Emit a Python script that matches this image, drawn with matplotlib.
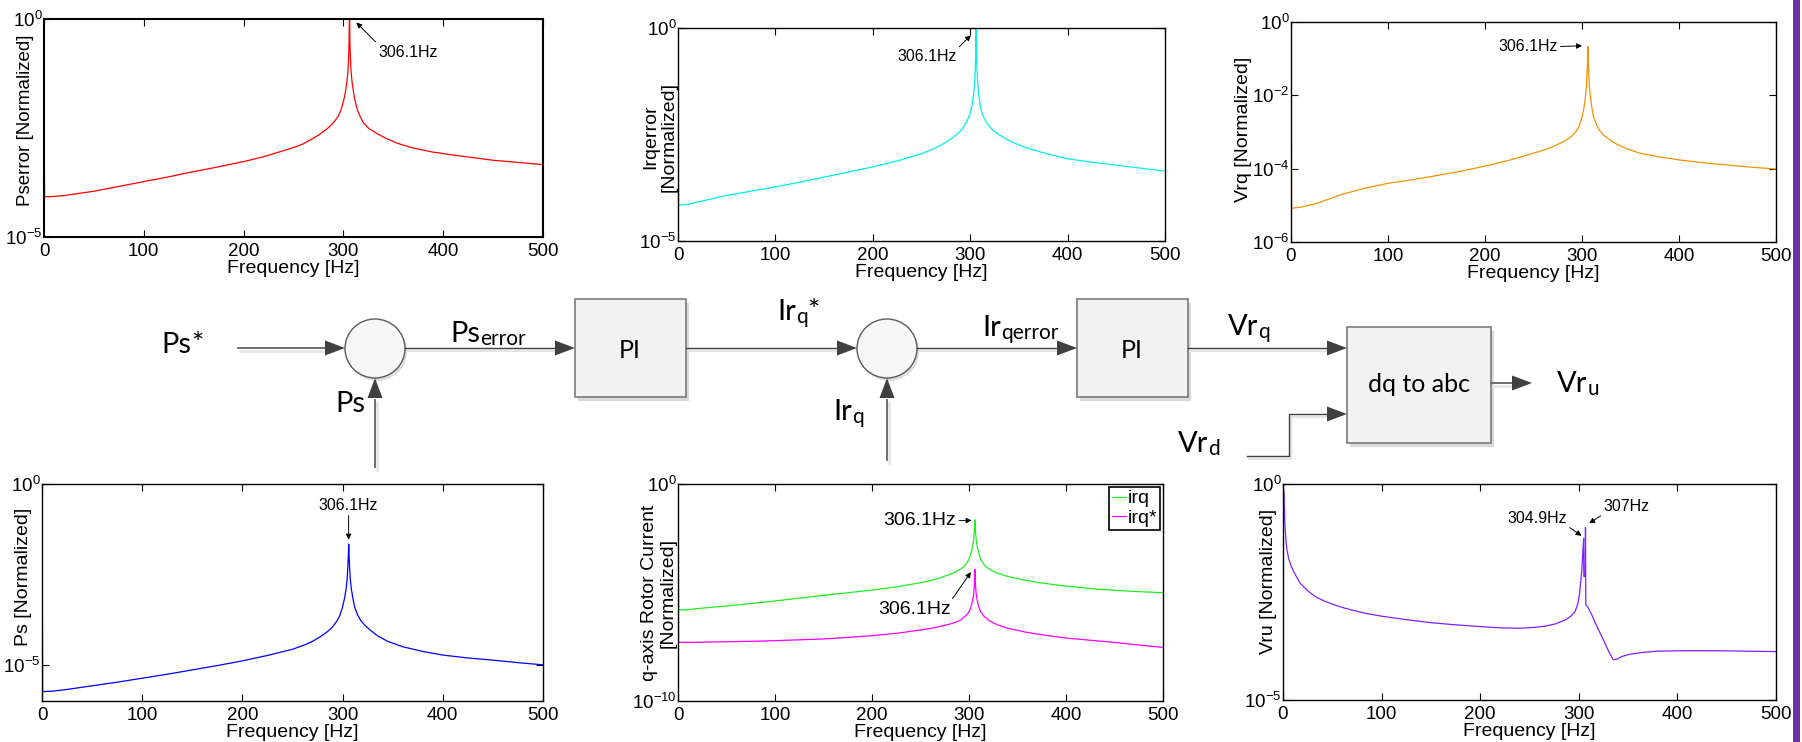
import numpy as np
import matplotlib
matplotlib.use('Agg')
import matplotlib.pyplot as plt
from matplotlib.patches import Rectangle, Ellipse, Polygon
from matplotlib.ticker import NullLocator

plt.rcParams['font.family'] = ['Liberation Sans', 'DejaVu Sans']
plt.rcParams['mathtext.default'] = 'regular'

W, H = 1802, 742

# spectra: frequency [Hz] and log10 of normalized magnitude
f_pserror = [0, 0.6, 10, 20, 35, 50, 75, 100, 125, 150, 175, 200, 220, 237, 250, 259, 268, 276,
             283, 288, 292, 295, 297, 299, 301, 302.5, 303.5, 304.5, 305.2, 305.7, 306.1, 306.5,
             307.0, 307.7, 308.7, 309.7, 311, 312.5, 314, 316.5, 320, 325, 333, 343, 354, 370,
             389, 410, 430, 450, 475, 500]
m_pserror = [-2.25, -4.08, -4.07, -4.05, -4.0, -3.95, -3.84, -3.73, -3.62, -3.50, -3.39, -3.27,
             -3.16, -3.04, -2.95, -2.87, -2.76, -2.65, -2.53, -2.43, -2.32, -2.22, -2.12, -1.98,
             -1.8, -1.6, -1.45, -1.2, -0.9, -0.5, 0.3, -0.5, -0.9, -1.2, -1.45, -1.6, -1.8,
             -1.95, -2.08, -2.22, -2.38, -2.5, -2.62, -2.74, -2.85, -2.96, -3.05, -3.12, -3.18,
             -3.24, -3.29, -3.34]

f_irqerror = [0, 0.6, 10, 25, 50, 75, 100, 125, 150, 175, 200, 225, 250, 262, 270, 278, 285, 290,
              294, 297, 300, 302, 303.5, 304.5, 305.2, 305.7, 306.1, 306.5, 307.0, 307.7, 308.7,
              310.2, 312, 315, 318, 322, 328, 335, 345, 360, 380, 400, 425, 450, 475, 500]
m_irqerror = [0, -4.16, -4.14, -4.06, -3.93, -3.83, -3.73, -3.62, -3.50, -3.38, -3.26, -3.12,
              -2.95, -2.84, -2.75, -2.64, -2.52, -2.42, -2.3, -2.17, -2.0, -1.8, -1.55, -1.3,
              -1.0, -0.6, 0.3, -0.6, -1.0, -1.3, -1.55, -1.8, -2.0, -2.15, -2.26, -2.37, -2.48,
              -2.58, -2.7, -2.83, -2.96, -3.07, -3.15, -3.22, -3.29, -3.36]

f_vrq = [0, 0.6, 10, 25, 40, 50, 75, 100, 125, 150, 175, 200, 225, 250, 262, 270, 278, 285, 290,
         294, 297, 300, 302, 303.5, 304.5, 305.2, 305.7, 306.1, 306.5, 307.0, 307.7, 308.7, 310.2,
         312, 315, 318, 322, 328, 335, 345, 360, 380, 400, 425, 450, 475, 500]
m_vrq = [0, -5.08, -5.05, -4.96, -4.82, -4.72, -4.54, -4.40, -4.30, -4.19, -4.07, -3.93, -3.77,
         -3.58, -3.48, -3.40, -3.30, -3.2, -3.1, -2.98, -2.85, -2.6, -2.35, -2.05, -1.8, -1.45,
         -1.1, -0.67, -1.1, -1.45, -1.8, -2.05, -2.35, -2.6, -2.8, -2.95, -3.08, -3.2, -3.32,
         -3.45, -3.58, -3.68, -3.76, -3.84, -3.90, -3.96, -4.01]

f_ps = [0, 0.6, 10, 25, 50, 75, 100, 125, 150, 175, 200, 225, 250, 262, 270, 278, 285, 290, 294,
        297, 300, 302, 303.5, 304.5, 305.2, 305.7, 306.1, 306.5, 307.0, 307.7, 308.7, 310.2, 312,
        315, 318, 322, 328, 335, 345, 360, 380, 400, 425, 450, 475, 500]
m_ps = [0, -5.74, -5.73, -5.68, -5.58, -5.48, -5.37, -5.26, -5.14, -5.02, -4.89, -4.74, -4.57,
        -4.45, -4.35, -4.22, -4.08, -3.95, -3.8, -3.65, -3.4, -3.15, -2.9, -2.65, -2.3, -2.0,
        -1.66, -2.0, -2.3, -2.65, -2.9, -3.15, -3.4, -3.62, -3.77, -3.9, -4.05, -4.2, -4.35,
        -4.5, -4.63, -4.73, -4.81, -4.87, -4.94, -5.0]

f_irq = [0, 0.6, 10, 25, 50, 75, 100, 125, 150, 175, 200, 225, 250, 265, 280, 287, 292, 296, 299,
         301, 302.5, 303.8, 304.7, 305.3, 305.7, 306.1, 306.5, 306.9, 307.5, 308.4, 309.7, 311.2,
         313, 316, 320, 325, 330, 340, 354, 370, 393, 415, 433, 470, 500]
m_irq = [0, -5.80, -5.79, -5.72, -5.62, -5.51, -5.39, -5.26, -5.13, -5.01, -4.89, -4.74, -4.55,
         -4.4, -4.17, -4.03, -3.9, -3.75, -3.55, -3.35, -3.1, -2.85, -2.6, -2.3, -2.05, -1.65,
         -2.05, -2.3, -2.6, -2.85, -3.1, -3.35, -3.55, -3.75, -3.9, -4.02, -4.12, -4.26, -4.40,
         -4.53, -4.67, -4.77, -4.85, -4.95, -5.01]

f_irq_ref = [0, 0.6, 25, 50, 75, 100, 125, 150, 175, 200, 225, 250, 265, 280, 287, 292, 296, 299,
             301, 302.5, 303.8, 304.7, 305.3, 305.7, 306.1, 306.5, 306.9, 307.5, 308.4, 309.7,
             311.2, 313, 316, 320, 325, 330, 340, 360, 380, 400, 425, 450, 475, 500]
m_irq_ref = [0, -7.30, -7.29, -7.27, -7.25, -7.22, -7.18, -7.14, -7.07, -6.99, -6.88, -6.73,
             -6.62, -6.46, -6.36, -6.25, -6.1, -5.95, -5.8, -5.6, -5.35, -5.1, -4.8, -4.5, -3.94,
             -4.5, -4.8, -5.1, -5.35, -5.6, -5.8, -5.95, -6.12, -6.27, -6.4, -6.5, -6.65, -6.84,
             -6.98, -7.10, -7.2, -7.30, -7.42, -7.53]

f_vru = [0, 1, 1.5, 2, 3, 4, 6, 8, 10, 13, 17.5, 25, 33, 42, 52.5, 62, 72, 85, 100, 125, 150,
         175, 200, 220, 239, 255, 266, 276, 286, 292, 296, 299, 300.8, 302, 303, 304.3, 304.9,
         305.1, 306.4, 306.8, 307.1, 309, 313, 317, 321, 325, 330, 335, 339, 344, 352, 364, 380,
         403, 442, 470, 500]
m_vru = [0, -0.2, -0.6, -0.99, -1.3, -1.53, -1.75, -1.88, -1.99, -2.12, -2.30, -2.47, -2.61,
         -2.71, -2.80, -2.87, -2.93, -3.0, -3.06, -3.14, -3.21, -3.26, -3.30, -3.33, -3.34, -3.32,
         -3.29, -3.24, -3.15, -3.06, -2.96, -2.78, -2.53, -2.25, -2.0, -1.5, -1.26, -2.14, -2.14,
         -1.01, -2.80, -2.84, -3.02, -3.23, -3.42, -3.61, -3.86, -4.07, -4.05, -3.99, -3.94,
         -3.90, -3.87, -3.86, -3.86, -3.87, -3.88]

x_ticks = [0, 100, 200, 300, 400, 500]

fig = plt.figure(figsize=(W / 100, H / 100), dpi=100)


def panel(l, t, r, b, frame=1.0):
    ax = fig.add_axes([l / W, 1 - b / H, (r - l) / W, (b - t) / H])
    ax.set_yscale('log')
    ax.set_xlim(0, 500)
    ax.set_xticks(x_ticks)
    ax.tick_params(direction='in', top=True, right=True, length=5, width=0.8,
                   labelsize=13.5, pad=4)
    ax.tick_params(axis='y', pad=1)
    for s in ax.spines.values():
        s.set_linewidth(frame)
    ax.set_xlabel('Frequency [Hz]', fontsize=14, labelpad=0)
    return ax


def decades(ax, exps, lo, hi):
    ax.set_ylim(10.0 ** lo, 10.0 ** hi)
    ax.set_yticks([10.0 ** e for e in exps])
    ax.set_yticklabels([r'$10^{%d}$' % e for e in exps])
    ax.yaxis.set_minor_locator(NullLocator())


def spectrum(ax, f, m, color, label=None):
    ax.plot(f, np.power(10.0, m), color=color, lw=0.9, label=label)


def ytitle(ax, lines, xs, y, size=14):
    # one rotated text per line, placed in axes fraction
    for txt, x in zip(lines, xs):
        ax.text(x, y, txt, rotation=90, fontsize=size, ha='center', va='center',
                transform=ax.transAxes)


def note(ax, txt, tip, pos, ha, va, rel, size=11.5):
    ax.annotate(txt, xy=(tip[0], 10.0 ** tip[1]), xytext=(pos[0], 10.0 ** pos[1]),
                ha=ha, va=va, fontsize=size,
                arrowprops=dict(arrowstyle='-|>', color='k', lw=0.7, mutation_scale=8,
                                shrinkA=0, shrinkB=0, relpos=rel))


# top row
ax1 = panel(44, 19, 543, 237, frame=1.5)
decades(ax1, [0, -5], -5, 0)
spectrum(ax1, f_pserror, m_pserror, '#ff0000')
ytitle(ax1, ['Pserror [Normalized]'], [-0.037], 0.535, size=13.5)
note(ax1, '306.1Hz', (313, -0.08), (335, -0.76), 'left', 'center', (0, 1))

ax2 = panel(678, 28, 1165, 241)
decades(ax2, [0, -5], -5, 0)
spectrum(ax2, f_irqerror, m_irqerror, '#00eeee')
ytitle(ax2, ['Irqerror', '[Normalized]'], [-0.056, -0.019], 0.49)
note(ax2, '306.1Hz', (300.7, -0.17), (286, -0.68), 'right', 'center', (1, 1))

ax3 = panel(1291, 22, 1776, 242)
decades(ax3, [0, -2, -4, -6], -6, 0)
spectrum(ax3, f_vrq, m_vrq, '#f39200')
ytitle(ax3, ['Vrq [Normalized]'], [-0.097], 0.51)
note(ax3, '306.1Hz', (300, -0.65), (275, -0.67), 'right', 'center', (1, 0.5))

# bottom row
ax4 = panel(42, 484, 543, 701)
decades(ax4, [0, -5], -6, 0)
spectrum(ax4, f_ps, m_ps, '#0000ff')
ytitle(ax4, ['Ps [Normalized]'], [-0.037], 0.573)
note(ax4, '306.1Hz', (306, -1.54), (306, -0.59), 'center', 'center', (0.5, 0))

ax5 = panel(678, 484, 1163, 701)
decades(ax5, [0, -10], -10, 0)
spectrum(ax5, f_irq, m_irq, '#22ee22', 'irq')
spectrum(ax5, f_irq_ref, m_irq_ref, '#ff00ff', 'irq*')
ytitle(ax5, ['q-axis Rotor Current', '[Normalized]'], [-0.058, -0.021], 0.5)
note(ax5, '306.1Hz', (302.7, -1.68), (287, -1.69), 'right', 'center', (1, 0.5), size=14)
note(ax5, '306.1Hz', (302, -4.06), (281, -5.80), 'right', 'center', (1, 1), size=14)
leg = ax5.legend(loc='upper right', fontsize=14, frameon=True, fancybox=False, edgecolor='k',
                 framealpha=1, borderaxespad=0.15, handlelength=0.7, handletextpad=0.1,
                 borderpad=0.15, labelspacing=0.1)
leg.get_frame().set_linewidth(1.2)

ax6 = panel(1283, 484, 1776, 700)
decades(ax6, [0, -5], -5, 0)
spectrum(ax6, f_vru, m_vru, '#7f1fff')
ytitle(ax6, ['Vru [Normalized]'], [-0.030], 0.548)
note(ax6, '304.9Hz', (302.7, -1.20), (288, -0.79), 'right', 'center', (1, 0))
note(ax6, '307Hz', (310.5, -0.91), (325, -0.52), 'left', 'center', (0, 0))

# control block diagram, drawn in figure pixels
axd = fig.add_axes([0, 0, 1, 1], zorder=-1)
axd.set_xlim(0, W)
axd.set_ylim(H, 0)
axd.axis('off')
rend = fig.canvas.get_renderer()
dfont = ['Lato', 'DejaVu Sans']
dark = '#404040'
light = '#6e6e6e'


def head(x, y, d, c=dark):
    L, w = 20, 7.5
    if d == 'r':
        pts = [(x, y), (x - L, y - w), (x - L, y + w)]
    else:
        pts = [(x, y), (x - w, y + L), (x + w, y + L)]
    axd.add_patch(Polygon(pts, closed=True, fc=c, ec='none', zorder=3))


def wire(xs, ys, c=dark, lw=1.0):
    axd.plot([x + 2 for x in xs], [y + 3 for y in ys], color='#e4e4e4', lw=lw + 0.5, zorder=1)
    axd.plot(xs, ys, color=c, lw=lw, zorder=2)


def block(l, t, r, b, txt, cx, cy):
    axd.add_patch(Rectangle((l + 3, t + 4), r - l, b - t, fc='#d9d9d9', ec='none', zorder=1))
    axd.add_patch(Rectangle((l, t), r - l, b - t, fc='#f2f2f2', ec='#7a7a7a', lw=1.2, zorder=2))
    axd.text(cx, cy, txt, fontsize=18, family=dfont, ha='center', va='center', zorder=4)


def junction(cx, cy):
    axd.add_patch(Ellipse((cx + 2, cy + 3), 60, 59, fc='#dedede', ec='none', zorder=1))
    axd.add_patch(Ellipse((cx, cy), 60, 59, fc='#f7f7f7', ec='#5a5a5a', lw=1.0, zorder=2))


def label(x, y, main, sub='', star=False):
    t = axd.text(x, y, main, fontsize=21, family=dfont, ha='left', va='baseline')
    x2 = t.get_window_extent(rend).x1
    if sub:
        s = axd.text(x2, y + 3, sub, fontsize=15, family=dfont, ha='left', va='baseline')
        x2 = s.get_window_extent(rend).x1
    if star:
        axd.text(x2, y, '*', fontsize=21, family=dfont, ha='left', va='baseline')


# Ps* -> junction 1
label(161, 353, 'Ps', star=True)
wire([238, 325], [348, 348], light, 1.4)
head(345, 348, 'r', dark)
junction(375, 348.5)
wire([375, 375], [467, 400], light, 1.4)
head(375, 378, 'u', dark)
label(335, 412, 'Ps')
# junction 1 -> PI
wire([405, 555], [348, 348])
head(575, 348, 'r')
label(450, 342, 'Ps', 'error')
block(575, 299, 686, 397, 'PI', 630, 350)
# PI -> junction 2
wire([686, 837], [348, 348])
head(857, 348, 'r')
label(777, 320, 'Ir', 'q', star=True)
junction(887, 348.5)
wire([887, 887], [460, 400], light, 1.4)
head(887, 378, 'u', dark)
label(833, 420, 'Ir', 'q')
# junction 2 -> PI
wire([917, 1057], [348, 348])
head(1077, 348, 'r')
label(982, 336, 'Ir', 'qerror')
block(1077, 299, 1188, 397, 'PI', 1132, 350)
# PI -> dq to abc
wire([1188, 1327], [348, 348])
head(1347, 348, 'r')
label(1228, 335, 'Vr', 'q')
block(1347, 327, 1491, 443, 'dq to abc', 1419, 384)
wire([1247, 1289, 1289, 1327], [456, 456, 414, 414])
head(1347, 414, 'r')
label(1178, 452, 'Vr', 'd')
# output
wire([1491, 1512], [383, 383], light, 1.4)
head(1532, 383, 'r', dark)
label(1557, 392, 'Vr', 'u')

# purple edge bar
axd.add_patch(Rectangle((1793, 0), 7, H, fc='#7030a0', ec='none', zorder=5))

fig.savefig('out.png', dpi=100)
